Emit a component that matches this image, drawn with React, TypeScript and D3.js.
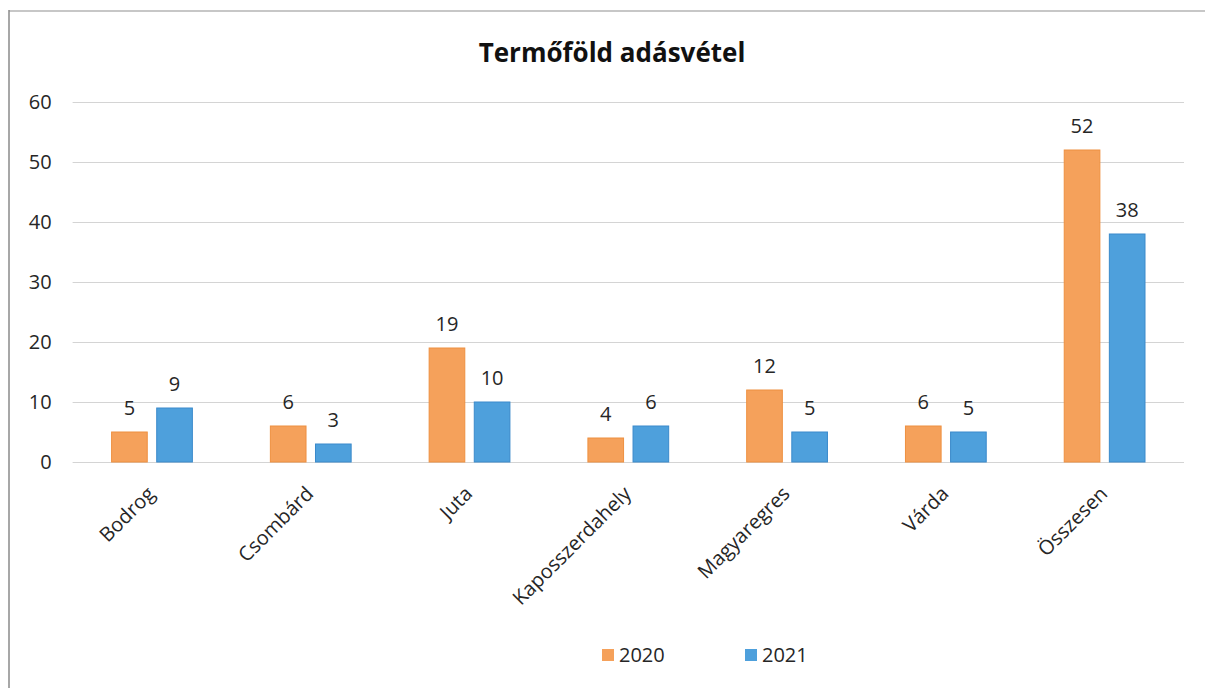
import React, { useEffect, useRef } from 'react';
import * as d3 from 'd3';

const WIDTH = 1205;
const HEIGHT = 688;
const MARGIN = { top: 102, right: 21, bottom: 226, left: 72.6 };

const title = 'Termőföld adásvétel';
const categories = ['Bodrog', 'Csombárd', 'Juta', 'Kaposszerdahely', 'Magyaregres', 'Várda', 'Összesen'];
const seriesNames = ['2020', '2021'];
const values2020 = [5, 6, 19, 4, 12, 6, 52];
const values2021 = [9, 3, 10, 6, 5, 5, 38];
const yTicks = [0, 10, 20, 30, 40, 50, 60];

const COLORS = ['#F5A15B', '#4EA0DC'];
const STROKES = ['#EE9040', '#3A8ACB'];
const FONT = '"Open Sans", sans-serif';
const TEXT = '#262626';

export default function App() {
  const ref = useRef<SVGSVGElement>(null);

  useEffect(() => {
    document.body.style.margin = '0';
    if (!ref.current) return;
    const svg = d3.select(ref.current);
    svg.selectAll('*').remove();

    const values = [values2020, values2021];

    const x0 = d3
      .scaleBand()
      .domain(categories)
      .range([MARGIN.left, WIDTH - MARGIN.right])
      .padding(0);

    const x1 = d3
      .scaleBand()
      .domain(seriesNames)
      .range([39, x0.bandwidth() - 39])
      .paddingInner(0.21);

    const y = d3
      .scaleLinear()
      .domain([0, 60])
      .range([462, MARGIN.top]);

    // frame (scanned page edge)
    svg.append('line')
      .attr('x1', 9).attr('x2', WIDTH).attr('y1', 11).attr('y2', 11)
      .attr('stroke', '#b5b5b5').attr('stroke-width', 1.5);
    svg.append('line')
      .attr('x1', 9).attr('x2', 9).attr('y1', 10).attr('y2', HEIGHT)
      .attr('stroke', '#8a8a8a').attr('stroke-width', 1.5);

    // title
    svg.append('text')
      .attr('x', 612)
      .attr('y', 62)
      .attr('text-anchor', 'middle')
      .style('font-family', FONT)
      .style('font-size', '26px')
      .style('font-weight', '700')
      .style('fill', '#111')
      .text(title);

    // gridlines + y labels
    const yAxis = d3
      .axisLeft(y)
      .tickValues(yTicks)
      .tickSize(-(x0.range()[1] - x0.range()[0]))
      .tickPadding(21);

    const yg = svg.append('g')
      .attr('transform', `translate(${MARGIN.left}, 0)`)
      .call(yAxis);
    yg.select('.domain').remove();
    yg.selectAll('.tick line').attr('stroke', '#d4d4d4').attr('stroke-width', 1);
    yg.selectAll('.tick text')
      .style('font-family', FONT)
      .style('font-size', '20px')
      .attr('fill', TEXT);

    // x labels
    const xg = svg.append('g');
    xg.selectAll('text')
      .data(categories)
      .enter()
      .append('text')
      .attr('transform', (d) => `translate(${x0(d)! + x0.bandwidth() / 2 + 4}, ${y(0) + 33}) rotate(-45)`)
      .attr('text-anchor', 'end')
      .style('font-family', FONT)
      .style('font-size', '20px')
      .style('fill', TEXT)
      .text((d) => d);

    // bars
    seriesNames.forEach((s, si) => {
      const g = svg.append('g');
      g.selectAll('rect')
        .data(categories)
        .enter()
        .append('rect')
        .attr('x', (d) => x0(d)! + x1(s)!)
        .attr('y', (d, i) => y(values[si][i]))
        .attr('width', x1.bandwidth())
        .attr('height', (d, i) => y(0) - y(values[si][i]))
        .attr('fill', COLORS[si])
        .attr('stroke', STROKES[si])
        .attr('stroke-width', 1);

      g.selectAll('text')
        .data(categories)
        .enter()
        .append('text')
        .attr('x', (d) => x0(d)! + x1(s)! + x1.bandwidth() / 2)
        .attr('y', (d, i) => y(values[si][i]) - 17)
        .attr('text-anchor', 'middle')
        .style('font-family', FONT)
        .style('font-size', '20px')
        .style('fill', TEXT)
        .text((d, i) => values[si][i]);
    });

    // legend
    const legendX = [602, 745];
    const lg = svg.append('g');
    seriesNames.forEach((s, si) => {
      lg.append('rect')
        .attr('x', legendX[si])
        .attr('y', 649)
        .attr('width', 12)
        .attr('height', 12)
        .attr('fill', COLORS[si]);
      lg.append('text')
        .attr('x', legendX[si] + 17)
        .attr('y', 662)
        .style('font-family', FONT)
        .style('font-size', '20px')
        .style('fill', TEXT)
        .text(s);
    });
  }, []);

  return <svg ref={ref} width={WIDTH} height={HEIGHT} style={{ display: 'block', background: '#fff' }} />;
}
